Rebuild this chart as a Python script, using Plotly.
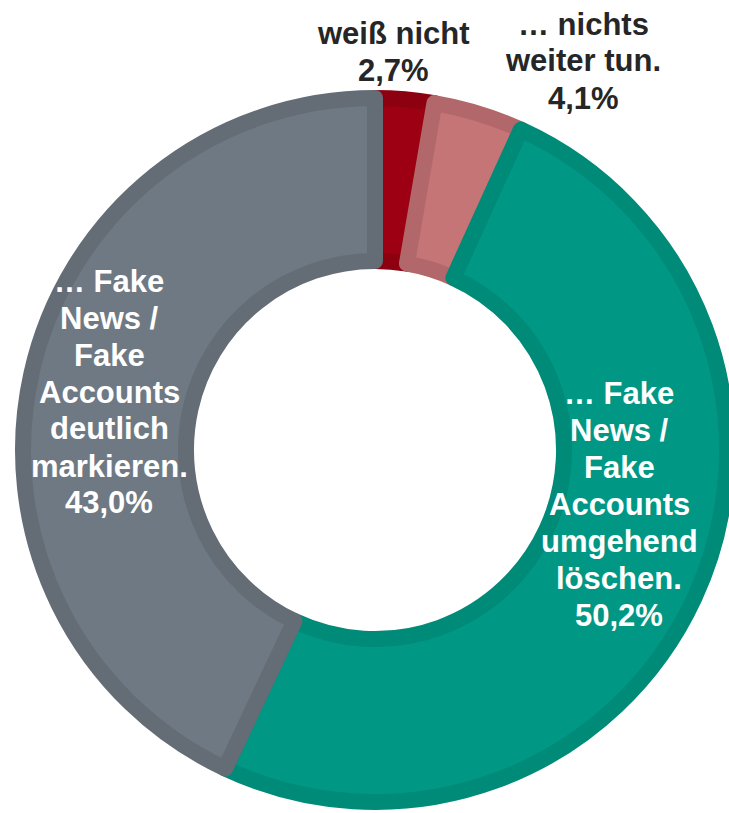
import plotly.graph_objects as go

# ---- data ----
categories = ["weiß nicht", "… nichts weiter tun.",
              "… Fake News / Fake Accounts umgehend löschen.",
              "… Fake News / Fake Accounts deutlich markieren."]
label_lines = [["weiß nicht"],
               ["… nichts", "weiter tun."],
               ["… Fake", "News /", "Fake", "Accounts", "umgehend", "löschen."],
               ["… Fake", "News /", "Fake", "Accounts", "deutlich", "markieren."]]
values = [2.7, 4.1, 50.2, 43.0]

fill_colors = ["#9C0012", "#C67577", "#009885", "#6E7983"]
border_colors = ["#8C0010", "#B2686A", "#008A78", "#646C76"]
text_colors = ["#262626", "#262626", "#FFFFFF", "#FFFFFF"]
# label block centres in page pixels (x, y from top)
label_pos = [(394, 52), (583, 61), (619, 504), (109, 392)]
LINE_STEP = 37
FONT_SIZE = 31

W, H = 729, 813
cx, cy, R = 375, 450, 352

fig = go.Figure(go.Pie(
    labels=categories,
    values=values,
    sort=False,
    direction="clockwise",
    rotation=0,
    hole=0.537,
    textinfo="none",
    hoverinfo="skip",
    marker=dict(colors=fill_colors, line=dict(color=border_colors, width=16)),
    domain=dict(x=[(cx - R) / W, (cx + R) / W],
                y=[(H - cy - R) / H, (H - cy + R) / H]),
    showlegend=False,
))

annotations = []
for lines, v, col, (px, py) in zip(label_lines, values, text_colors, label_pos):
    pct = f"{v:.1f}%".replace(".", ",")
    all_lines = lines + [pct]
    n = len(all_lines)
    for i, l in enumerate(all_lines):
        ly = py + (i - (n - 1) / 2) * LINE_STEP
        annotations.append(dict(
            x=px / W, y=1 - ly / H, xref="paper", yref="paper",
            xanchor="center", yanchor="middle", showarrow=False,
            text=f"<b>{l}</b>", align="center",
            font=dict(family="Arial, Liberation Sans, sans-serif",
                      size=FONT_SIZE, color=col),
        ))

fig.update_layout(
    width=W, height=H,
    margin=dict(l=0, r=0, t=0, b=0),
    paper_bgcolor="white", plot_bgcolor="white",
    annotations=annotations,
    hovermode=False,
)

fig.write_html(
    "out.html",
    config={"displayModeBar": False, "staticPlot": True},
    post_script="document.body.style.margin='0';document.body.style.overflow='hidden';",
)
